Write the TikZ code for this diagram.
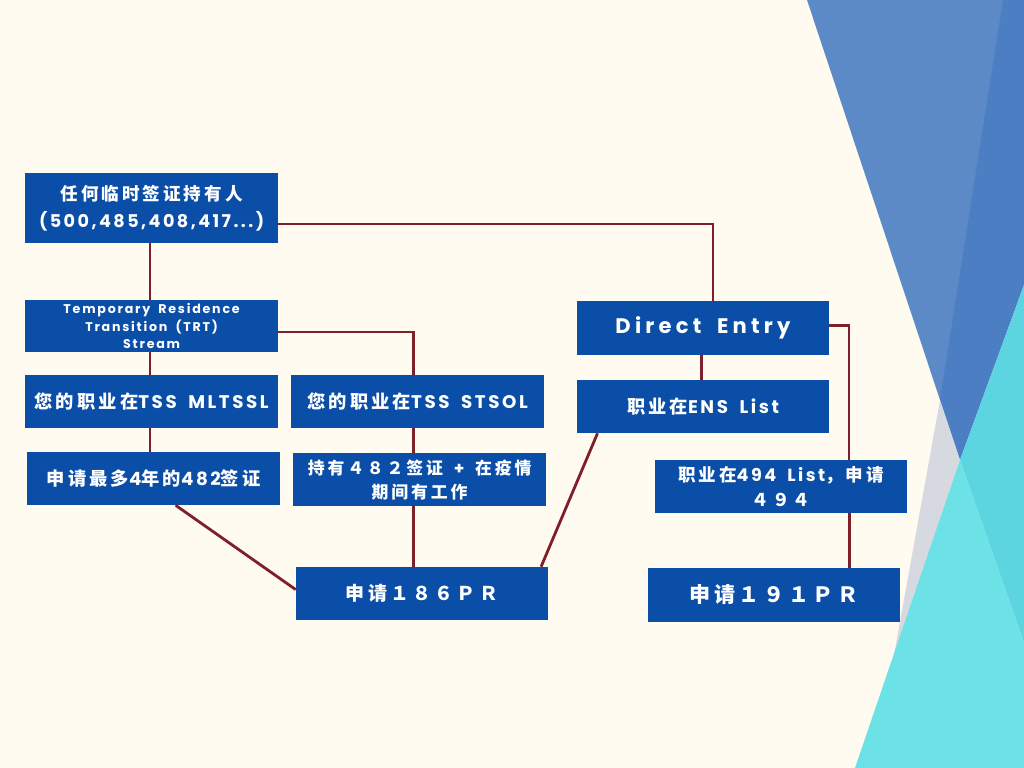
\documentclass[tikz,border=0pt]{standalone}
\usepackage{fontspec}
\setmainfont{Poppins}[LetterSpace=14,WordSpace=1.8]
\newfontfamily\zh{Noto Sans CJK SC}[LetterSpace=17]
\usetikzlibrary{positioning,calc}
\definecolor{visCream}{HTML}{FFFBF1}
\definecolor{visBlue}{HTML}{0B4EA8}
\definecolor{visRed}{HTML}{7E1F2A}
\definecolor{skyLight}{HTML}{5B8AC6}
\definecolor{skyDark}{HTML}{4B7EC3}
\definecolor{skyGrey}{HTML}{D6DAE0}
\definecolor{tealLight}{HTML}{6CE1E6}
\definecolor{tealDark}{HTML}{5CD5E0}
\tikzset{
  box/.style={fill=visBlue, text=white, align=center, inner sep=2pt,
              minimum width=6.33cm, minimum height=1.33cm,
              font=\bfseries\fontsize{13}{17}\selectfont},
  small/.style={font=\bfseries\fontsize{9}{12.5}\selectfont},
  link/.style={draw=visRed, line width=2pt},
}
\begin{document}
\begin{tikzpicture}
    % background and corner triangles
    \fill[visCream] (0,0) rectangle (25.6,19.2);
    \fill[skyLight] (20.175,19.2) -- (25.6,19.2) -- (24.0,7.7) -- cycle;
    \fill[skyDark] (25.075,19.2) -- (25.6,19.2) -- (25.6,12.075) -- (24.0,7.7) -- (23.5,9.2) -- cycle;
    \fill[skyGrey] (23.5,9.2) -- (24.0,7.7) -- (22.35,2.825) -- cycle;
    \fill[tealDark] (24.0,7.7) -- (25.6,12.075) -- (25.6,3.125) -- cycle;
    \fill[tealLight] (24.0,7.7) -- (25.6,3.125) -- (25.6,0) -- (21.375,0) -- cycle;

    % left column
    \node[box,minimum height=1.75cm,font=\bfseries\fontsize{12.5}{19.5}\selectfont] (top) at (3.79,14.0)
        {{\zh 任何临时签证持有人}\\(500,485,408,417...)};
    \node[box,small,minimum height=1.3cm] (trt) at (3.79,11.05)
        {Temporary Residence\\Transition (TRT)\\Stream};
    \node[box] (mlt) at (3.79,9.16) {{\zh 您的职业在}TSS MLTSSL};
    \node[box] (v482) at (3.84,7.24) {{\zh 申请最多}4{\zh 年的}482{\zh 签证}};

    % middle column
    \node[box] (stsol) at (10.44,9.16) {{\zh 您的职业在}TSS STSOL};
    \node[box,font=\bfseries\fontsize{12}{17}\selectfont] (h482) at (10.49,7.21)
        {{\zh 持有４８２签证} + {\zh 在疫情}\\{\zh 期间有工作}};
    \node[box,minimum width=6.3cm,font=\bfseries\fontsize{13.5}{17}\selectfont] (pr186) at (10.55,4.36)
        {\zh 申请１８６ＰＲ};

    % right column
    \node[box,minimum width=6.3cm,font=\bfseries\fontsize{15}{17}\selectfont\addfontfeature{LetterSpace=20}] (de) at (17.575,11.0)
        {Direct Entry};
    \node[box,minimum width=6.3cm] (ens) at (17.575,9.04) {{\zh 职业在}ENS List};
    \node[box,minimum width=6.3cm,font=\bfseries\fontsize{12.5}{17.5}\selectfont] (l494) at (19.525,7.04)
        {{\zh 职业在}494 List{\zh ，申请}\\{\zh ４９４}};
    \node[box,minimum width=6.3cm,minimum height=1.35cm,font=\bfseries\fontsize{15}{17}\selectfont] (pr191) at (19.35,4.33)
        {\zh 申请１９１ＰＲ};

    % connectors
    \draw[link] ([xshift=-0.04cm]top.south) -- ([xshift=-0.04cm]trt.north);
    \draw[link] ([yshift=-0.4cm]top.east) -| ([xshift=0.25cm]de.north);
    \draw[link] ([xshift=-0.04cm]trt.south) -- ([xshift=-0.04cm]mlt.north);
    \draw[link] ([yshift=-0.15cm]trt.east) -| ([xshift=-0.11cm]stsol.north);
    \draw[link] ([xshift=-0.04cm]mlt.south) -- ([xshift=-0.04cm]mlt.south |- v482.north);
    \draw[link] ([xshift=-0.11cm]stsol.south) -- ([xshift=-0.11cm]stsol.south |- h482.north);
    \draw[link] ([xshift=-0.16cm]h482.south) -- ([xshift=-0.16cm]h482.south |- pr186.north);
    \draw[link] ([xshift=0.55cm]v482.south) -- ([yshift=0.1cm]pr186.west);
    \draw[link] ([xshift=0.52cm]ens.south west) -- ([xshift=-0.18cm]pr186.north east);
    \draw[link] ([xshift=-0.03cm]de.south) -- ([xshift=-0.03cm]ens.north);
    \draw[link] ([yshift=0.06cm]de.east) -| ([xshift=1.7cm]l494.north);
    \draw[link] ([xshift=1.72cm]l494.south) -- ([xshift=1.72cm]l494.south |- pr191.north);
\end{tikzpicture}
\end{document}
